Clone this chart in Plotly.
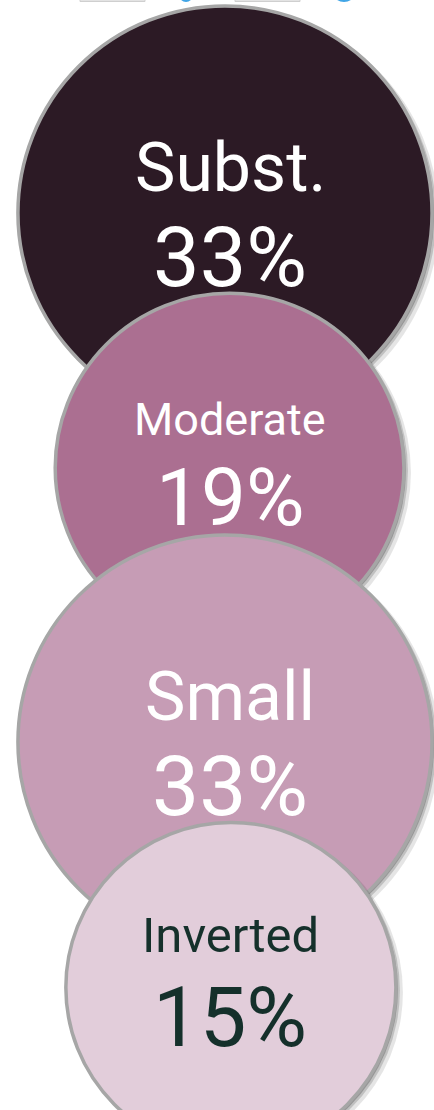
import plotly.graph_objects as go

# data
categories = ['Subst.', 'Moderate', 'Small', 'Inverted']
shares = [33, 19, 33, 15]

# styles
fill_colors = ['#2c1a25', '#ab6f91', '#c69cb5', '#e2cdda']
text_colors = ['#ffffff', '#ffffff', '#ffffff', '#15302b']
label_sizes = [68, 45, 68, 49]
pct_sizes = [83, 80, 84, 83]
border = '#a6a6a6'

W, H = 434, 1110
TOP = 213        # centre of first bubble (px)
TEXT_X = 230

# bubble diameters scale linearly with the share
diam = [260 + 4.67 * v for v in shares]

# stack the bubbles so that neighbours overlap
y_centers = [TOP]
for i in range(1, len(diam)):
    r0, r1 = diam[i - 1] / 2, diam[i] / 2
    y_centers.append(y_centers[-1] + 0.6935 * (r0 + r1) + 0.3 * (r1 - r0))

fig = go.Figure()
annotations = []

for i, (cat, val) in enumerate(zip(categories, shares)):
    d = diam[i]
    cx = 225 + 0.07 * (414 - d)
    cy = y_centers[i]

    # soft drop shadow, bottom-right
    for off, alpha, grow in [(5, 0.10, 4), (3, 0.16, 2), (2, 0.22, 0)]:
        fig.add_trace(go.Scatter(
            x=[cx + off], y=[cy + off], mode='markers',
            marker=dict(size=d + grow, color=f'rgba(0,0,0,{alpha})',
                        line=dict(width=0)),
            hoverinfo='skip', showlegend=False,
        ))

    fig.add_trace(go.Scatter(
        x=[cx], y=[cy], mode='markers', name=cat,
        marker=dict(size=d, color=fill_colors[i], opacity=1,
                    line=dict(color=border, width=3.5)),
        hovertemplate=f'<b>{cat}</b><br>{val}%<extra></extra>',
        showlegend=False,
    ))

    # text block: sits a touch higher in the smaller bubbles
    mid = cy - (414 - d) * 0.135
    gap = 0.4 * (label_sizes[i] + pct_sizes[i]) + 29
    annotations.append(dict(
        x=TEXT_X, y=mid - gap / 2, xref='x', yref='y',
        text=cat, showarrow=False,
        font=dict(family='Roboto', size=label_sizes[i], color=text_colors[i]),
        xanchor='center', yanchor='middle',
    ))
    annotations.append(dict(
        x=TEXT_X, y=mid + gap / 2, xref='x', yref='y',
        text=f'{val}%', showarrow=False,
        font=dict(family='Roboto', size=pct_sizes[i], color=text_colors[i]),
        xanchor='center', yanchor='middle',
    ))

# bottoms of the toolbar buttons peeking in at the very top
shapes = []
for x0, x1 in [(80, 145), (235, 300)]:
    shapes.append(dict(type='rect', xref='x', yref='y', x0=x0, x1=x1, y0=-20, y1=1.5,
                       fillcolor='#e3e3e3', line=dict(color='#cfcfcf', width=1), layer='below'))
for x0, x1 in [(176, 196), (330, 358)]:
    shapes.append(dict(type='circle', xref='x', yref='y', x0=x0, x1=x1, y0=-30, y1=2,
                       fillcolor='#41a5e6', line=dict(width=0), layer='below'))

fig.update_layout(
    width=W, height=H,
    margin=dict(t=0, l=0, r=0, b=0),
    paper_bgcolor='white', plot_bgcolor='white',
    xaxis=dict(range=[0, W], visible=False, fixedrange=True),
    yaxis=dict(range=[H, 0], visible=False, fixedrange=True),
    annotations=annotations,
    shapes=shapes,
    showlegend=False,
)

# page has a default 8px body margin; drop it so the chart fills the window
fig.write_html('out.html', config={'displayModeBar': False},
               post_script="document.body.style.margin='0';")
